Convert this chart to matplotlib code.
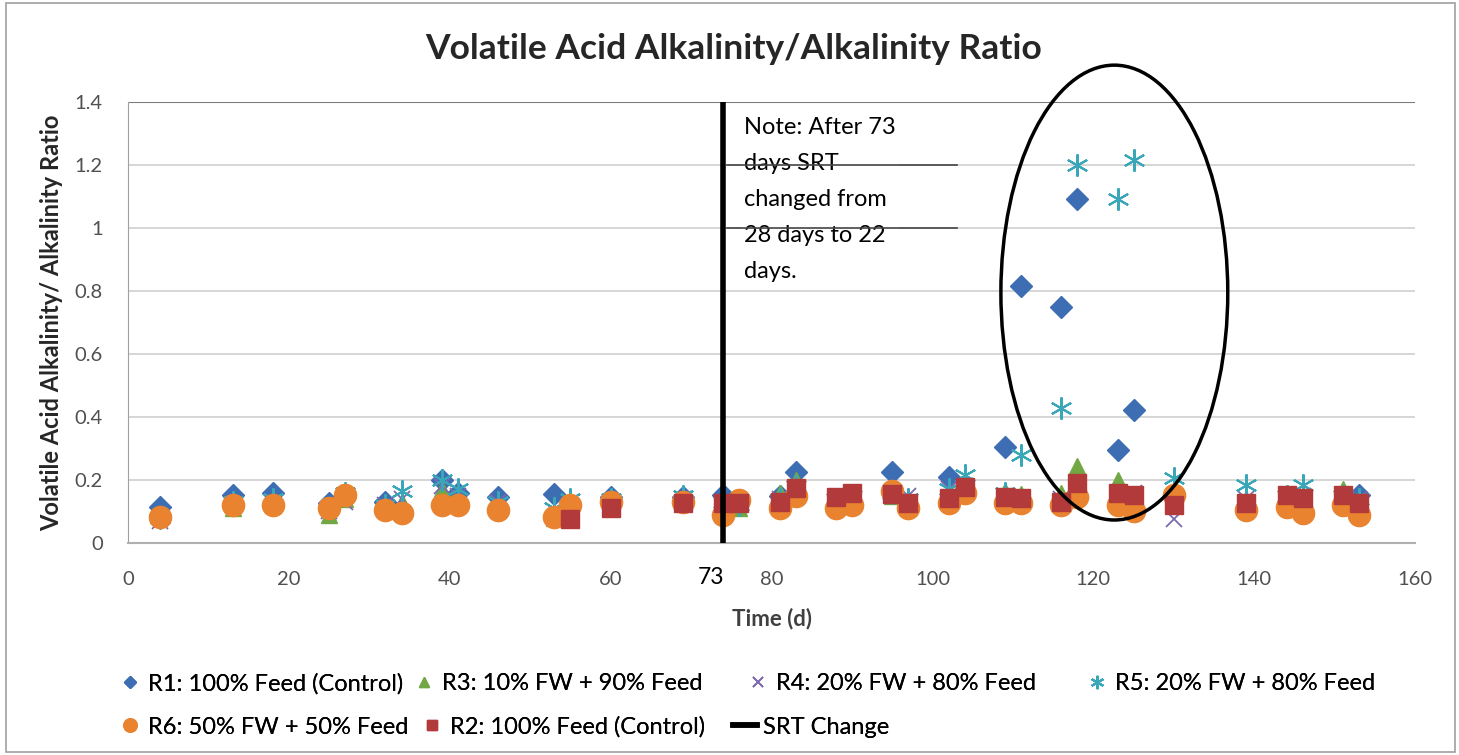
import matplotlib
matplotlib.use("Agg")
import matplotlib.pyplot as plt
from matplotlib.patches import Ellipse, Rectangle

plt.rcParams['font.family'] = ['Lato', 'DejaVu Sans']

# Данные: день и отношение VA/ALK для каждого реактора
r1_days = [4, 13, 18, 25, 32, 39, 41, 46, 53, 60, 69, 74, 81, 83, 95, 102, 109, 111, 116, 118, 123, 125, 153]
r1_vals = [0.115, 0.152, 0.16, 0.127, 0.13, 0.2, 0.16, 0.146, 0.155, 0.146, 0.147, 0.152, 0.15, 0.225,
           0.225, 0.21, 0.305, 0.816, 0.749, 1.092, 0.295, 0.422, 0.152]

r3_days = [4, 13, 18, 25, 27, 32, 34, 39, 41, 46, 53, 55, 60, 69, 74, 76, 81, 83, 88, 90, 95, 97,
           102, 104, 109, 111, 116, 118, 123, 125, 130, 139, 144, 146, 151, 153]
r3_vals = [0.09, 0.11, 0.12, 0.09, 0.14, 0.12, 0.13, 0.17, 0.14, 0.12, 0.08, 0.1, 0.12, 0.13, 0.13, 0.11,
           0.16, 0.2, 0.13, 0.14, 0.15, 0.13, 0.16, 0.17, 0.165, 0.155, 0.16, 0.245, 0.2, 0.15,
           0.13, 0.14, 0.16, 0.15, 0.17, 0.14]

r4_days = r3_days
r4_vals = [0.07, 0.12, 0.13, 0.1, 0.13, 0.12, 0.14, 0.18, 0.15, 0.13, 0.1, 0.12, 0.13, 0.14, 0.12, 0.12,
           0.14, 0.17, 0.14, 0.14, 0.16, 0.15, 0.17, 0.18, 0.15, 0.14, 0.14, 0.17, 0.15, 0.16,
           0.075, 0.14, 0.15, 0.15, 0.15, 0.14]

r5_days = r3_days
r5_vals = [0.08, 0.13, 0.14, 0.11, 0.16, 0.12, 0.165, 0.2, 0.17, 0.13, 0.11, 0.14, 0.14, 0.15, 0.13, 0.12,
           0.14, 0.18, 0.14, 0.15, 0.16, 0.14, 0.17, 0.216, 0.16, 0.28, 0.428, 1.2, 1.092, 1.216,
           0.206, 0.184, 0.15, 0.184, 0.15, 0.14]

r6_days = r3_days
r6_vals = [0.083, 0.12, 0.12, 0.11, 0.152, 0.105, 0.095, 0.12, 0.12, 0.105, 0.083, 0.12, 0.13, 0.13, 0.09,
           0.137, 0.11, 0.15, 0.11, 0.12, 0.165, 0.11, 0.127, 0.16, 0.127, 0.127, 0.12, 0.146, 0.12,
           0.1, 0.152, 0.105, 0.115, 0.095, 0.12, 0.09]

r2_days = [55, 60, 69, 74, 76, 81, 83, 88, 90, 95, 97, 102, 104, 109, 111, 116, 118, 123, 125, 130,
           139, 144, 146, 151, 153]
r2_vals = [0.076, 0.11, 0.127, 0.127, 0.127, 0.13, 0.175, 0.146, 0.158, 0.155, 0.127, 0.143, 0.178, 0.146,
           0.143, 0.13, 0.19, 0.158, 0.152, 0.12, 0.127, 0.152, 0.143, 0.152, 0.127]

srt_day = 74  # линия смены SRT
srt_y = [0, 1.4]

labels = ["R1: 100% Feed (Control)", "R3: 10% FW + 90% Feed", "R4: 20% FW + 80% Feed",
          "R5: 20% FW + 80% Feed", "R6: 50% FW + 50% Feed", "R2: 100% Feed (Control)", "SRT Change"]

W, H = 1459, 755
fig = plt.figure(figsize=(W / 100, H / 100), dpi=100)
ax = fig.add_axes([0.0877, 0.2808, 0.8823, 0.5841])

# рамка вокруг всего рисунка
fig.patches.append(Rectangle((0.004, 0.004), 0.993, 0.992, transform=fig.transFigure,
                             fill=False, edgecolor="#a0a0a0", linewidth=1.2))

# сетка
for g in [0.2, 0.4, 0.6, 0.8, 1.0, 1.2]:
    ax.axhline(g, color="#d0d0d0", linewidth=1.2, zorder=0)
ax.axhline(1.4, color="#7a7a7a", linewidth=1.5, zorder=0)

h1, = ax.plot(r1_days, r1_vals, linestyle="none", marker="D", markersize=11, color="#3d6db3", zorder=3)
h3, = ax.plot(r3_days, r3_vals, linestyle="none", marker="^", markersize=12, color="#72a844", zorder=3)
h4, = ax.plot(r4_days, r4_vals, linestyle="none", marker="x", markersize=12, markeredgewidth=1.3,
              color="#7d6aae", zorder=3)
h5, = ax.plot(r5_days, r5_vals, linestyle="none", marker=(6, 2, 0), markersize=16, markeredgewidth=1.5,
              color="#3aa7b8", zorder=3)
h6, = ax.plot(r6_days, r6_vals, linestyle="none", marker="o", markersize=16, color="#e9832f", zorder=3)
h2, = ax.plot(r2_days, r2_vals, linestyle="none", marker="s", markersize=13, color="#b33a3a", zorder=3)
hs, = ax.plot([srt_day, srt_day], srt_y, color="black", linewidth=4, zorder=4)

# овал вокруг выбросов
ax.add_patch(Ellipse((122.6, 0.795), 28.2, 1.444, fill=False, edgecolor="black", linewidth=2.5,
                     clip_on=False, zorder=5))

# заметка
ax.text(76.6, 1.353, "Note: After 73\ndays SRT\nchanged from\n28 days to 22\ndays.", fontsize=17,
        va="top", ha="left", linespacing=1.88, color="black", zorder=6,
        bbox=dict(facecolor="white", edgecolor="none", pad=2))
ax.plot([74.4, 103], [1.2, 1.2], color="#444444", linewidth=1.2, zorder=7)
ax.plot([74.4, 103], [1.0, 1.0], color="#444444", linewidth=1.2, zorder=7)

ax.set_xlim(0, 160)
ax.set_ylim(0, 1.4)
ax.set_xticks(range(0, 161, 20))
ax.set_yticks([0, 0.2, 0.4, 0.6, 0.8, 1.0, 1.2, 1.4])
ax.set_yticklabels(["0", "0.2", "0.4", "0.6", "0.8", "1", "1.2", "1.4"])
ax.tick_params(length=0, labelsize=14.5, labelcolor="#505050")
ax.tick_params(axis="x", pad=20)
ax.tick_params(axis="y", pad=18)
for s in ["top", "right"]:
    ax.spines[s].set_visible(False)
ax.spines["left"].set_color("#a0a0a0")
ax.spines["bottom"].set_color("#b0b0b0")
ax.spines["bottom"].set_linewidth(1.5)

ax.text(72.5, -0.108, "73", fontsize=16.5, ha="center", va="center", color="black")

fig.text(734 / W, 1 - 49 / H, "Volatile Acid Alkalinity/Alkalinity Ratio", fontsize=25.5,
         fontweight="bold", color="#262626", ha="center", va="center")
ax.set_xlabel("Time (d)", fontsize=16, fontweight="bold", color="#404040", labelpad=14)
ax.set_ylabel("Volatile Acid Alkalinity/ Alkalinity Ratio", fontsize=17, fontweight="bold",
              color="#262626", labelpad=8)

# легенда: каждый элемент отдельно, в две строки как в Excel
handles = [h1, h3, h4, h5, h6, h2, hs]
leg_left = [118, 412, 746, 1085, 118, 420, 733]
leg_row = [684, 684, 684, 684, 727, 727, 727]
for hnd, lab, lx, ly in zip(handles, labels, leg_left, leg_row):
    leg = fig.legend([hnd], [lab], loc="center left", bbox_to_anchor=(lx / W, 1 - ly / H),
                     frameon=False, fontsize=17, markerscale=0.6, borderpad=0, borderaxespad=0,
                     handletextpad=0.25, handlelength=1.0)
    fig.add_artist(leg)

fig.savefig("out.png", dpi=100)
